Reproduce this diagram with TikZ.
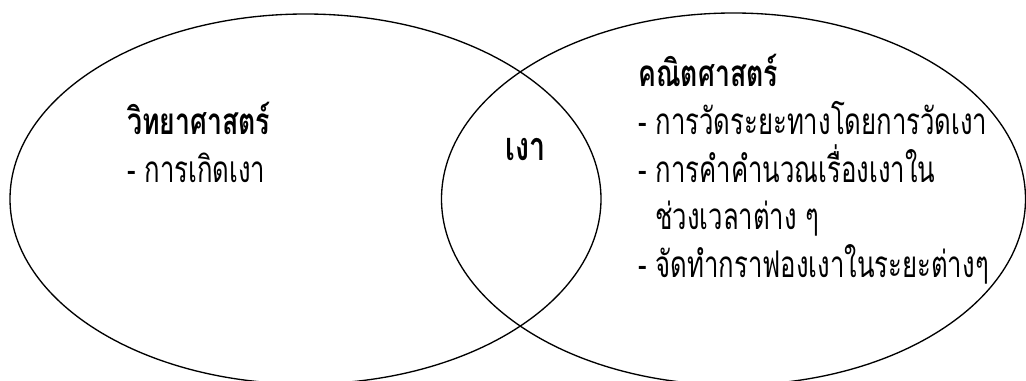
\documentclass[tikz,border=0pt]{standalone}
\usepackage{graphicx}
\usepackage{fontspec}
\newfontfamily\thaifont[Script=Thai]{Loma}
\newcommand\headtxt[1]{\scalebox{1}[1.38]{\thaifont\bfseries\fontsize{20}{24}\selectfont #1}}
\newcommand\bigheadtxt[1]{\scalebox{1}[1.38]{\thaifont\bfseries\fontsize{21.5}{26}\selectfont #1}}
\newcommand\itemtxt[1]{\scalebox{0.965}[1.38]{\thaifont\fontsize{20}{24}\selectfont #1}}
\begin{document}
\begin{tikzpicture}[x=0.75pt,y=-0.75pt,
  venn/.style={draw=black,line width=1pt},
  txt/.style={anchor=base west,inner sep=0pt}]
\useasboundingbox (0,0) rectangle (1026,381);
\clip (0,0) rectangle (1026,381);
\draw[venn] (305.5,199) ellipse [x radius=295.5, y radius=185];
\draw[venn] (733.5,199) ellipse [x radius=292, y radius=186];
\node[txt] (sci) at (127,135) {\headtxt{วิทยาศาสตร์}};
\node[txt] (sci1) at (127,183) {\itemtxt{- การเกิดเงา}};
\node[txt] (shadow) at (505,161) {\bigheadtxt{เงา}};
\node[txt] (math) at (638,87) {\headtxt{คณิตศาสตร์}};
\node[txt] (m1) at (638,135) {\itemtxt{- การวัดระยะทางโดยการวัดเงา}};
\node[txt] (m2) at (638,183) {\itemtxt{- การคำคำนวณเรื่องเงาใน}};
\node[txt] (m2b) at (655,230) {\itemtxt{ช่วงเวลาต่าง ๆ}};
\node[txt] (m3) at (638,278) {\itemtxt{- จัดทำกราฟองเงาในระยะต่างๆ}};
\end{tikzpicture}
\end{document}
